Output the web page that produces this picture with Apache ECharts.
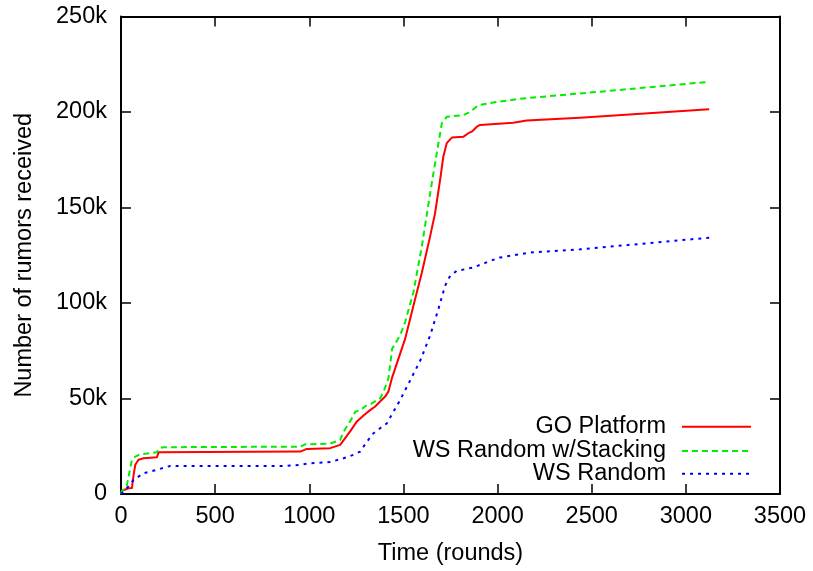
<!DOCTYPE html>
<html>
<head>
<meta charset="utf-8">
<script src="https://cdn.jsdelivr.net/npm/echarts@6/dist/echarts.min.js"></script>
<style>
html,body{margin:0;padding:0;background:#fff;}
#chart{width:813px;height:571px;}
</style>
</head>
<body>
<div id="chart"></div>
<script>
// Data
var seriesNames = ['GO Platform', 'WS Random w/Stacking', 'WS Random'];

var goX = [0, 5, 39, 58, 67, 76, 93, 120, 191, 200, 209, 952, 987, 1111, 1164, 1217, 1253, 1288, 1323, 1350, 1376, 1403, 1420, 1438, 1509, 1553, 1598, 1642, 1668, 1695, 1712, 1730, 1757, 1819, 1845, 1863, 1890, 1907, 2084, 2155, 2438, 3124];
var goY = [0, 1600, 3000, 3100, 10000, 15300, 17900, 18700, 19300, 21900, 22200, 22200, 23600, 24000, 25700, 32800, 38000, 41100, 43900, 45800, 48400, 51000, 53600, 60400, 81200, 98600, 116000, 135000, 147000, 164600, 176700, 183700, 186600, 187100, 188900, 189700, 192300, 193200, 194400, 195500, 197000, 201400];

var wsStackX = [0, 5, 30, 49, 58, 76, 102, 156, 191, 205, 226, 952, 978, 1111, 1164, 1182, 1226, 1244, 1270, 1306, 1332, 1359, 1376, 1394, 1420, 1440, 1482, 1509, 1553, 1598, 1642, 1677, 1704, 1730, 1819, 1854, 1898, 1996, 2137, 2438, 3124];
var wsStackY = [0, 1600, 4000, 13500, 17900, 19600, 20800, 21400, 21900, 24000, 24500, 24800, 26000, 26400, 28300, 32600, 39600, 43100, 43900, 46500, 47400, 49100, 50000, 53500, 60400, 76000, 83000, 90000, 105600, 129800, 157600, 178500, 194100, 197500, 198400, 200100, 203600, 205300, 207100, 209700, 215800];

var wsX = [0, 5, 40, 67, 120, 191, 262, 881, 952, 1005, 1111, 1182, 1235, 1270, 1306, 1341, 1376, 1412, 1447, 1482, 1518, 1536, 1590, 1642, 1686, 1721, 1748, 1783, 1872, 1960, 2013, 2172, 2438, 3124];
var wsY = [0, 1000, 4000, 7400, 10900, 12700, 14700, 14700, 15300, 16100, 16700, 18700, 20500, 22200, 27400, 31800, 34400, 37000, 43100, 49100, 56100, 59500, 70000, 83000, 96900, 109000, 114200, 116800, 118600, 122000, 123800, 126400, 128100, 134200];

var xTicks = [0, 500, 1000, 1500, 2000, 2500, 3000, 3500];
var yTicks = [0, 50000, 100000, 150000, 200000, 250000];

function pairs(xs, ys) { return xs.map(function (x, i) { return [x, ys[i]]; }); }

var FONT = 'Liberation Sans';
var FS = 23.5;

var chart = echarts.init(document.getElementById('chart'), null, {renderer: 'canvas'});

function xAxisCfg(pos, showLabel) {
  return {
    type: 'value', position: pos,
    min: xTicks[0], max: xTicks[xTicks.length - 1], interval: xTicks[1] - xTicks[0],
    axisLine: {show: true, onZero: false, lineStyle: {color: '#000', width: 2}},
    axisTick: {show: true, inside: true, length: 10, lineStyle: {color: '#000', width: 1.5}},
    axisLabel: {show: showLabel, color: '#000', fontFamily: FONT, fontSize: FS, margin: 11,
      formatter: function (v) { return String(v); }},
    splitLine: {show: false}
  };
}
function yAxisCfg(pos, showLabel) {
  return {
    type: 'value', position: pos,
    min: yTicks[0], max: yTicks[yTicks.length - 1], interval: yTicks[1] - yTicks[0],
    axisLine: {show: true, onZero: false, lineStyle: {color: '#000', width: 2}},
    axisTick: {show: true, inside: true, length: 10, lineStyle: {color: '#000', width: 1.5}},
    axisLabel: {show: showLabel, color: '#000', fontFamily: FONT, fontSize: FS, margin: 14,
      formatter: function (v) { return v === 0 ? '0' : (v / 1000) + 'k'; }},
    splitLine: {show: false}
  };
}

var bottomX = xAxisCfg('bottom', true);
bottomX.name = 'Time (rounds)';
bottomX.nameLocation = 'middle';
bottomX.nameGap = 48;
bottomX.nameTextStyle = {color: '#000', fontFamily: FONT, fontSize: FS};

var leftY = yAxisCfg('left', true);
leftY.name = 'Number of rumors received';
leftY.nameLocation = 'middle';
leftY.nameGap = 84;
leftY.nameTextStyle = {color: '#000', fontFamily: FONT, fontSize: FS};

var colors = ['#ff0000', '#00ee00', '#0000ff'];
var legendTops = [414.7, 439, 461.7];

var legends = seriesNames.map(function (n, i) {
  return {
    data: [n], top: legendTops[i], right: 61, orient: 'vertical', align: 'right',
    itemWidth: 69, itemHeight: 14, padding: 0,
    itemStyle: {opacity: 0},
    textStyle: {color: '#000', fontFamily: FONT, fontSize: FS, lineHeight: 22, padding: [0, 11, 0, 0]},
    selectedMode: false
  };
});

function lineSeries(i, data, type) {
  return {
    name: seriesNames[i], type: 'line', data: data, showSymbol: false, symbol: 'none',
    smooth: false,
    lineStyle: {color: colors[i], width: 2, type: type, join: 'round'}, itemStyle: {color: colors[i]}
  };
}

chart.setOption({
  animation: false,
  backgroundColor: '#fff',
  grid: {left: 121, right: 33, top: 16.5, bottom: 75},
  xAxis: [bottomX, xAxisCfg('top', false)],
  yAxis: [leftY, yAxisCfg('right', false)],
  legend: legends,
  series: [
    lineSeries(0, pairs(goX, goY), 'solid'),
    lineSeries(1, pairs(wsStackX, wsStackY), [6, 4]),
    lineSeries(2, pairs(wsX, wsY), [3, 5])
  ]
});
</script>
</body>
</html>
